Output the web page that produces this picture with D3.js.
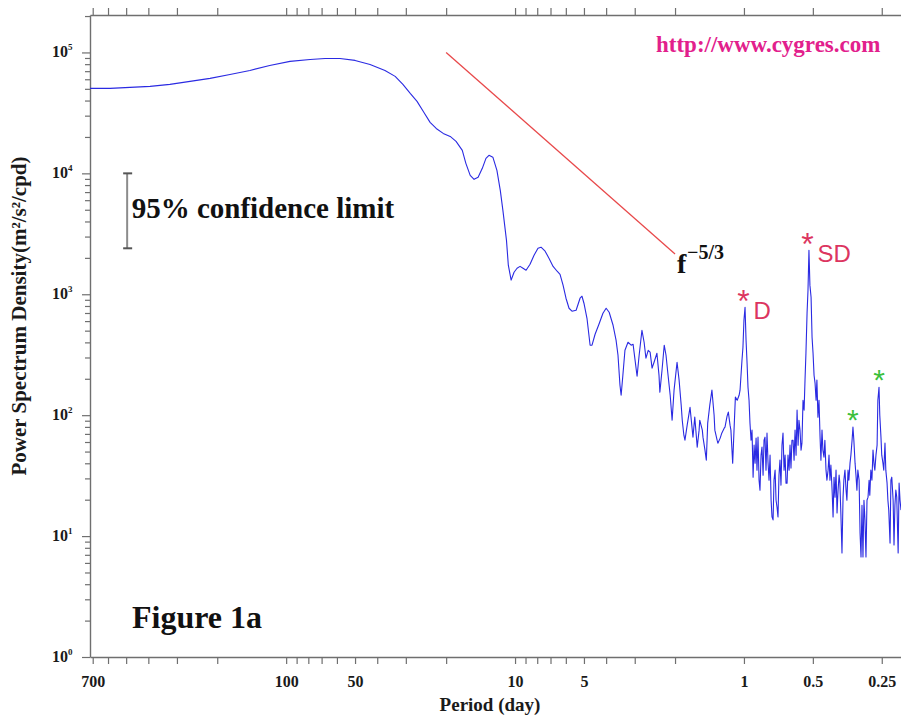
<!DOCTYPE html>
<html>
<head>
<meta charset="utf-8">
<script src="https://cdn.jsdelivr.net/npm/d3@7"></script>
<style>
  html, body { margin: 0; padding: 0; background: #fff; }
  svg { display: block; }
</style>
</head>
<body>
<svg id="chart" width="901" height="717"></svg>
<script>
// Power spectrum of the current record: period (day) and spectral density (m²/s²/cpd)
const period = [
  719, 588, 481, 393, 322, 263, 215, 176, 144, 118, 96.2, 78.6, 67.6, 58.2, 50.0, 43.0, 37.0, 33.4, 30.9, 28.7,
  26.8, 25.0, 23.5, 22.1, 20.6, 19.2, 18.1, 17.0, 16.4, 15.7, 15.1, 14.5, 13.9, 13.4, 13.0, 12.5, 12.0, 11.6, 11.3, 10.9,
  10.7, 10.4, 10.1, 9.80, 9.51, 9.23, 8.95, 8.60, 8.26, 7.94, 7.70, 7.39, 7.10, 6.82, 6.55, 6.36, 6.17, 5.99, 5.81, 5.64,
  5.41, 5.20, 5.10, 5.00, 4.85, 4.70, 4.61, 4.47, 4.30, 4.13, 4.00, 3.88, 3.73, 3.62, 3.55, 3.48, 3.44, 3.38, 3.31, 3.21,
  3.11, 3.05, 2.99, 2.93, 2.87, 2.79, 2.73, 2.68, 2.62, 2.57, 2.52, 2.47, 2.40, 2.35, 2.33, 2.28, 2.23, 2.19, 2.15, 2.10,
  2.06, 2.02, 1.96, 1.92, 1.88, 1.86, 1.83, 1.81, 1.77, 1.72, 1.69, 1.67, 1.64, 1.60, 1.57, 1.56, 1.52, 1.51, 1.48, 1.46,
  1.44, 1.41, 1.38, 1.35, 1.34, 1.31, 1.30, 1.27, 1.25, 1.22, 1.21, 1.185, 1.17, 1.15, 1.14, 1.12, 1.105, 1.09, 1.07, 1.05,
  1.04, 1.03, 1.02, 1.01, 1.00, 0.989, 0.979, 0.969, 0.960, 0.950,
  0.941, 0.931, 0.922, 0.912, 0.903, 0.894, 0.885, 0.877, 0.868, 0.859, 0.851, 0.842, 0.834, 0.825, 0.817, 0.809, 0.801, 0.793, 0.785, 0.777,
  0.769, 0.761, 0.754, 0.746, 0.739, 0.731, 0.724, 0.717, 0.710, 0.703, 0.696, 0.689, 0.682, 0.675, 0.668, 0.661, 0.655, 0.648, 0.642, 0.635,
  0.629, 0.623, 0.617, 0.610, 0.604, 0.598, 0.592, 0.586, 0.580, 0.575, 0.569, 0.563, 0.558, 0.552, 0.546, 0.541, 0.536, 0.530, 0.525, 0.520,
  0.515, 0.509, 0.504, 0.499, 0.494, 0.489, 0.484, 0.480, 0.475, 0.470, 0.465, 0.461, 0.456, 0.452, 0.447, 0.443, 0.438, 0.434, 0.429, 0.425,
  0.421, 0.417, 0.412, 0.408, 0.404, 0.400, 0.396, 0.392, 0.388, 0.384, 0.381, 0.377, 0.373, 0.369, 0.366, 0.362, 0.358, 0.355, 0.351, 0.348,
  0.344, 0.341, 0.337, 0.334, 0.331, 0.327, 0.324, 0.321, 0.318, 0.314, 0.311, 0.308, 0.305, 0.302, 0.299, 0.296, 0.293, 0.290, 0.287, 0.284,
  0.282, 0.279, 0.276, 0.273, 0.270, 0.268, 0.265, 0.262, 0.260, 0.257, 0.255, 0.252, 0.250, 0.247, 0.245, 0.242, 0.240, 0.237, 0.235, 0.233,
  0.230, 0.228, 0.226, 0.223, 0.221, 0.219, 0.217, 0.215, 0.212, 0.210, 0.208, 0.206
];
const psd = [
  5.04e4, 5.04e4, 5.14e4, 5.24e4, 5.44e4, 5.76e4, 6.10e4, 6.58e4, 7.10e4, 7.81e4, 8.43e4, 8.75e4, 8.92e4, 8.92e4, 8.59e4, 7.96e4, 7.10e4, 6.34e4, 5.44e4, 4.58e4,
  3.94e4, 3.19e4, 2.64e4, 2.35e4, 2.14e4, 2.02e4, 1.84e4, 1.55e4, 1.21e4, 9.63e3, 8.92e3, 9.27e3, 1.10e4, 1.33e4, 1.41e4, 1.36e4, 1.06e4, 7.24e3, 4.94e3, 2.79e3,
  1.74e3, 1.31e3, 1.52e3, 1.64e3, 1.70e3, 1.64e3, 1.58e3, 1.77e3, 2.10e3, 2.40e3, 2.45e3, 2.27e3, 1.98e3, 1.70e3, 1.55e3, 1.46e3, 1.19e3, 927, 766, 724,
  737, 927, 963, 843, 633, 379, 379, 467, 565, 697, 766, 710, 554, 417, 313, 177, 146, 214, 344, 401,
  379, 386, 285, 210, 313, 504, 401, 296, 344, 332, 245, 274, 325, 214, 155, 235, 379, 313, 222, 146,
  90.9, 161, 274, 195, 121, 90.9, 68.3, 62.1, 82.7, 116, 82.7, 65.8, 96.3, 54.4, 75.2, 90.9, 75.2, 65.8, 51.4, 42.5,
  85.9, 121, 161, 100, 75.2, 62.1, 58.7, 64.6, 71.0, 78.1, 79.6, 98.1, 106, 82.7, 75.2, 40.1, 75.2, 141, 133, 146,
  161, 214, 285, 365, 610, 781, 417, 269, 170, 133,
  85.9, 62.1, 75.2, 30.7, 56.5, 40.1, 64.6, 35.1, 65.8, 29.0, 24.0, 46.7, 54.4, 31.9, 62.1, 65.8, 35.1, 71.0, 40.9, 29.0,
  46.7, 19.8, 14.4, 13.6, 29.0, 35.1, 19.8, 17.4, 14.4, 31.9, 42.5, 26.4, 56.5, 71.0, 35.1, 46.7, 27.4, 27.4, 46.7, 35.1,
  56.5, 36.5, 62.1, 62.1, 42.5, 75.2, 46.7, 110, 56.5, 90.9, 75.2, 51.4, 58.7, 133, 110, 195, 325, 697, 1080, 2310,
  1190, 944, 441, 325, 214, 184, 133, 195, 96.3, 133, 65.8, 42.5, 75.2, 51.4, 45.0, 62.1, 35.1, 29.0, 35.1, 46.7,
  29.0, 38.6, 24.0, 14.4, 30.7, 21.0, 35.1, 15.5, 24.0, 31.9, 27.4, 14.9, 7.24, 21.0, 29.0, 35.1, 24.0, 19.8, 35.1, 29.0,
  40.1, 46.7, 62.1, 79.6, 62.1, 40.1, 31.9, 24.0, 35.1, 29.0, 10.6, 6.71, 18.0, 6.71, 19.8, 13.6, 6.71, 19.8, 21.0, 29.0,
  21.8, 35.1, 29.0, 51.4, 38.6, 35.1, 46.7, 56.5, 133, 170, 100, 65.8, 46.7, 40.1, 35.1, 58.7, 35.1, 27.4, 19.8, 16.4,
  8.75, 29.0, 30.7, 19.8, 8.43, 18.0, 24.0, 21.0, 7.24, 27.4, 19.8, 16.4
];

// f^-5/3 reference slope
const slopePeriod = [20, 2];
const slopePsd = [1e5, 2.15e3];

// 95% confidence interval
const confPeriod = 495;
const confPsd = [2.4e3, 1e4];

// Tidal peaks (diurnal, semidiurnal) and higher harmonics
const tidalPeaks = [{ label: "D", period: 0.989 }, { label: "SD", period: 0.520 }];
const harmonicPeaks = [0.334, 0.257];

// Axis extents and ticks
const periodExtent = [719.3, 0.206];
const psdExtent = [1, 2.04e5];
const periodTicks = [700, 600, 500, 400, 300, 200, 100, 90, 80, 70, 60, 50, 40, 30, 20, 10, 9, 8, 7, 6, 5, 4, 3, 2, 1, 0.5, 0.25];
const periodLabels = [700, 100, 50, 10, 5, 1, 0.5, 0.25];
const psdDecades = [0, 1, 2, 3, 4, 5];

const W = 901, H = 717;
const plot = { left: 90, right: 901, top: 15, bottom: 657 };
const serif = '"Liberation Serif", "Times New Roman", Times, serif';
const sans = '"Liberation Sans", Arial, Helvetica, sans-serif';
const axisColor = "#6f6f6f";
const tideRed = "#dc3560";
const harmonicGreen = "#3cbf3c";

const svg = d3.select("#chart");
svg.append("rect").attr("width", W).attr("height", H).attr("fill", "#fff");

const x = d3.scaleLog().domain(periodExtent).range([plot.left, plot.right]);
const y = d3.scaleLog().domain(psdExtent).range([plot.bottom, plot.top]);

function styleAxis(g) {
  g.select(".domain").attr("stroke", axisColor).attr("stroke-width", 1.4);
  g.selectAll(".tick line").attr("stroke", axisColor).attr("stroke-width", 1.2);
}

// Bottom period axis
const gBottom = svg.append("g")
  .attr("transform", `translate(0,${plot.bottom})`)
  .call(d3.axisBottom(x).tickValues(periodTicks).tickSizeInner(7).tickSizeOuter(0).tickPadding(12)
    .tickFormat(d => periodLabels.includes(d) ? String(d) : ""));
styleAxis(gBottom);
gBottom.selectAll(".tick text")
  .attr("font-family", serif).attr("font-weight", "bold").attr("font-size", 16).attr("fill", "#1a1a1a");

// Top period axis (ticks only)
const gTop = svg.append("g")
  .attr("transform", `translate(0,${plot.top})`)
  .call(d3.axisTop(x).tickValues(periodTicks).tickSizeInner(7).tickSizeOuter(0).tickFormat(() => ""));
styleAxis(gTop);

// Left density axis: long ticks at decades, short ticks between
const isDecade = v => Math.abs(Math.log10(v) - Math.round(Math.log10(v))) < 1e-9;
const gLeft = svg.append("g")
  .attr("transform", `translate(${plot.left},0)`)
  .call(d3.axisLeft(y).tickValues(y.ticks()).tickSizeInner(5).tickSizeOuter(0).tickFormat(() => ""));
styleAxis(gLeft);
gLeft.selectAll(".tick line").attr("x2", d => isDecade(d) ? -8 : -5);

psdDecades.forEach(k => {
  const t = svg.append("text")
    .attr("x", 52).attr("y", y(Math.pow(10, k)) + 5)
    .attr("font-family", serif).attr("font-weight", "bold").attr("font-size", 16).attr("fill", "#1a1a1a")
    .text("10");
  t.append("tspan").attr("dy", -7).attr("font-size", 9).text(k);
});

// Axis titles
svg.append("text")
  .attr("x", 490).attr("y", 711)
  .attr("text-anchor", "middle")
  .attr("font-family", serif).attr("font-weight", "bold").attr("font-size", 19).attr("fill", "#1a1a1a")
  .text("Period (day)");

svg.append("text")
  .attr("transform", "translate(26,316) rotate(-90)")
  .attr("text-anchor", "middle")
  .attr("font-family", serif).attr("font-weight", "bold").attr("font-size", 21).attr("fill", "#1a1a1a")
  .text("Power Spectrum Density(m²/s²/cpd)");

// Spectrum curve
const line = d3.line().x(d => x(d[0])).y(d => y(d[1]));
svg.append("path")
  .datum(d3.zip(period, psd))
  .attr("d", line)
  .attr("fill", "none")
  .attr("stroke", "#2a2ae2")
  .attr("stroke-width", 1.1)
  .attr("stroke-linejoin", "round");

// f^-5/3 slope and its label
svg.append("path")
  .datum(d3.zip(slopePeriod, slopePsd))
  .attr("d", line)
  .attr("fill", "none")
  .attr("stroke", "#e8484a")
  .attr("stroke-width", 1.3);

const slopeEndX = x(slopePeriod[1]), slopeEndY = y(slopePsd[1]);
svg.append("text")
  .attr("x", slopeEndX + 2).attr("y", slopeEndY + 19)
  .attr("font-family", serif).attr("font-weight", "bold").attr("font-size", 28).attr("fill", "#111")
  .text("f");
svg.append("text")
  .attr("x", slopeEndX + 12).attr("y", slopeEndY + 5)
  .attr("font-family", serif).attr("font-weight", "bold").attr("font-size", 20).attr("fill", "#111")
  .text("\u22125/3");

// Confidence bar
const cx = x(confPeriod);
const cTop = y(confPsd[1]), cBot = y(confPsd[0]);
svg.append("line").attr("x1", cx).attr("x2", cx).attr("y1", cTop).attr("y2", cBot)
  .attr("stroke", "#8c8c8c").attr("stroke-width", 2);
[cTop, cBot].forEach(cy => svg.append("line")
  .attr("x1", cx - 4).attr("x2", cx + 5).attr("y1", cy).attr("y2", cy)
  .attr("stroke", "#555").attr("stroke-width", 2));
svg.append("text")
  .attr("x", cx + 4.5).attr("y", 218)
  .attr("font-family", serif).attr("font-weight", "bold").attr("font-size", 29).attr("fill", "#111")
  .text("95% confidence limit");

// Peak markers
const nearest = p => d3.minIndex(period, v => Math.abs(Math.log(v / p)));
tidalPeaks.forEach(pk => {
  const i = nearest(pk.period);
  const px = x(period[i]), py = y(psd[i]);
  svg.append("text")
    .attr("x", px - 1.5).attr("y", py + 5).attr("text-anchor", "middle")
    .attr("font-family", sans).attr("font-size", 32).attr("fill", tideRed)
    .text("*");
  svg.append("text")
    .attr("x", px + 8.5).attr("y", py + 12)
    .attr("font-family", sans).attr("font-size", 24).attr("fill", tideRed)
    .text(pk.label);
});
harmonicPeaks.forEach(p => {
  const i = nearest(p);
  svg.append("text")
    .attr("x", x(period[i])).attr("y", y(psd[i]) + 3).attr("text-anchor", "middle")
    .attr("font-family", sans).attr("font-size", 30).attr("fill", harmonicGreen)
    .text("*");
});

// Figure captions
svg.append("text")
  .attr("x", 132).attr("y", 628)
  .attr("font-family", serif).attr("font-weight", "bold").attr("font-size", 32).attr("fill", "#111")
  .text("Figure 1a");

svg.append("text")
  .attr("x", 656).attr("y", 52)
  .attr("font-family", serif).attr("font-weight", "bold").attr("font-size", 23).attr("fill", "#e2208c")
  .text("http://www.cygres.com");
</script>
</body>
</html>
